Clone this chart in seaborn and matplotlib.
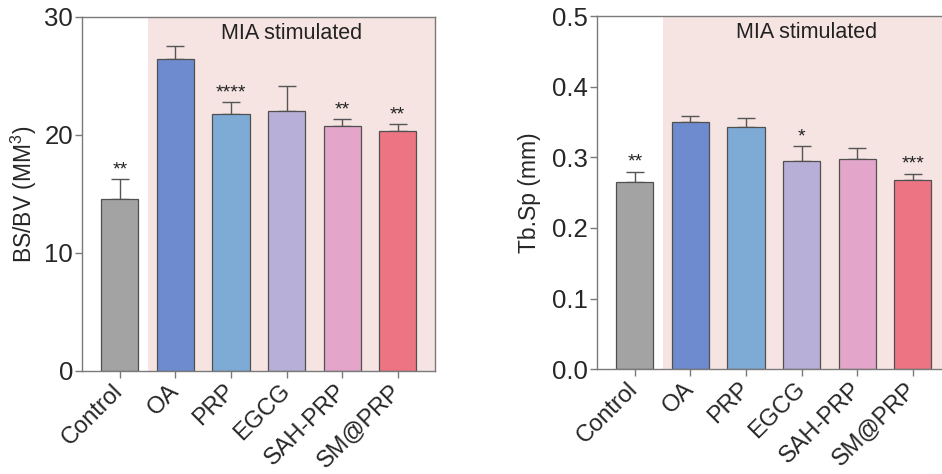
import matplotlib
matplotlib.use("Agg")
import matplotlib.pyplot as plt
import seaborn as sns
import numpy as np
import pandas as pd

groups = ["Control", "OA", "PRP", "EGCG", "SAH-PRP", "SM@PRP"]
colors = ["#a3a3a3", "#6f8bcf", "#7eabd6", "#b7afd7", "#e3a6ca", "#ed7483"]

bsbv_mean = [14.55, 26.46, 21.79, 22.05, 20.78, 20.32]
bsbv_err = [1.70, 1.05, 0.97, 2.12, 0.56, 0.60]
bsbv_sig = ["**", "", "****", "", "**", "**"]

tbsp_mean = [0.2656, 0.3495, 0.3430, 0.2953, 0.2972, 0.2684]
tbsp_err = [0.0141, 0.0095, 0.0132, 0.0208, 0.0165, 0.0085]
tbsp_sig = ["**", "", "", "*", "", "***"]

sns.set_theme(style="white")
plt.rcParams["font.family"] = ["Liberation Sans", "DejaVu Sans"]
plt.rcParams["mathtext.fontset"] = "custom"
plt.rcParams["mathtext.rm"] = "Liberation Sans"
plt.rcParams["mathtext.it"] = "Liberation Sans"

fig = plt.figure(figsize=(9.42, 4.74), dpi=100)
ax1 = fig.add_axes([82 / 942, 103 / 474, 353 / 942, 354 / 474])
ax2 = fig.add_axes([597 / 942, 104.7 / 474, 353 / 942, 353.3 / 474])

shade = "#f5e4e2"
spine_c = "#7a7a7a"


def panel(ax, means, errs, sigs, ymax, yticks, ylabel, fmt, labelpad, sig_off, mia_y):
    df = pd.DataFrame({"group": groups, "value": means})
    xlim = (-0.68, 5.67)
    ax.axvspan(0.5, xlim[1], color=shade, zorder=0, lw=0)
    sns.barplot(data=df, x="group", y="value", hue="group", palette=colors,
                order=groups, hue_order=groups, legend=False, width=0.67,
                saturation=1, edgecolor="#505050", linewidth=0.9, ax=ax,
                zorder=2, errorbar=None)
    x = np.arange(len(groups))
    ax.errorbar(x, means, yerr=[np.zeros(len(errs)), errs], fmt="none",
                ecolor="#555555", elinewidth=1.0, capsize=6.5, capthick=1.0, zorder=1)
    for xi, m, e, s in zip(x, means, errs, sigs):
        if s:
            ax.text(xi, m + e + sig_off, s, ha="center", va="bottom", fontsize=14, color="#222222")
    ax.text(3.09, mia_y, "MIA stimulated", ha="center", va="center", fontsize=15.5, color="#222222")
    ax.set_xlim(*xlim)
    ax.set_ylim(0, ymax)
    ax.set_yticks(yticks)
    ax.set_yticklabels([fmt.format(t) for t in yticks], fontsize=18.5)
    ax.set_xticks(x)
    ax.set_xticklabels(groups, rotation=45, ha="right", va="center",
                       rotation_mode="anchor", fontsize=17)
    ax.set_xlabel("")
    ax.set_ylabel(ylabel, fontsize=16.5, labelpad=labelpad)
    ax.tick_params(axis="both", direction="out", length=5, width=1, color=spine_c,
                   bottom=True, left=True, pad=1.5)
    ax.tick_params(axis="x", pad=7)
    for sp in ax.spines.values():
        sp.set_color(spine_c)
        sp.set_linewidth(1.0)
        sp.set_visible(True)
        sp.set_zorder(3)
    ax.patch.set_alpha(0)


panel(ax1, bsbv_mean, bsbv_err, bsbv_sig, 30, [0, 10, 20, 30], "BS/BV (MM$^3$)", "{:.0f}", 4, 0.05, 28.6)
panel(ax2, tbsp_mean, tbsp_err, tbsp_sig, 0.5, [0.0, 0.1, 0.2, 0.3, 0.4, 0.5], "Tb.Sp (mm)", "{:.1f}", 8, 0.001, 0.476)

fig.savefig("out.png", dpi=100)
